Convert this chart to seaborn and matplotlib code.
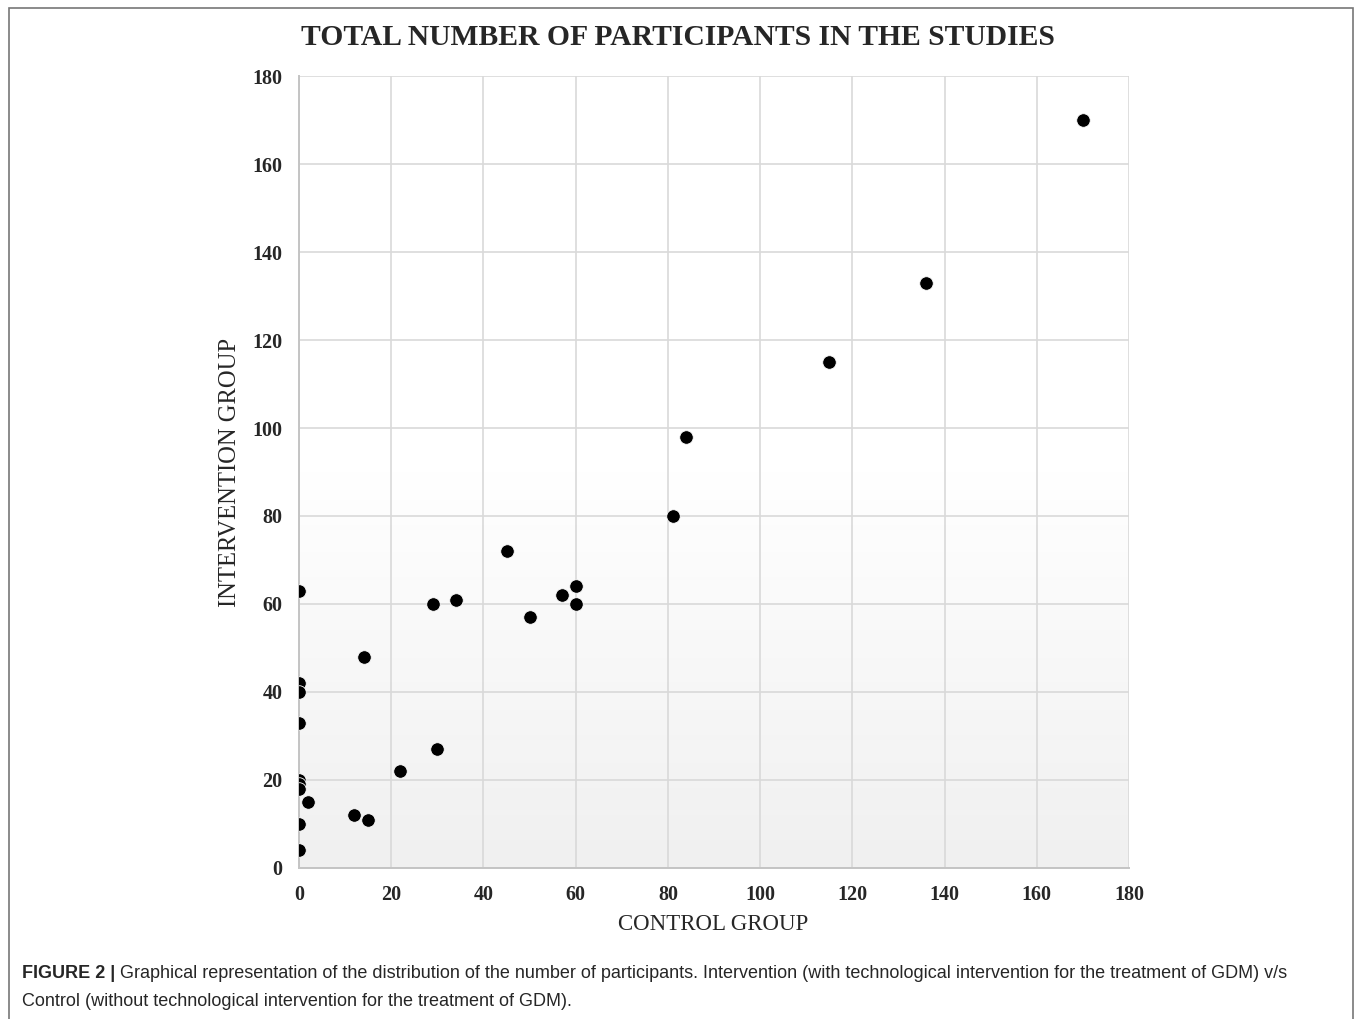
import numpy as np
import pandas as pd
import matplotlib
matplotlib.use("Agg")
import matplotlib.pyplot as plt
import matplotlib.patches as patches
import seaborn as sns

# Participants per study
control_group = [170, 136, 115, 84, 81, 45, 60, 57, 60, 50, 34, 29, 14,
                 0, 0, 0, 0, 30, 22, 0, 0, 0, 2, 12, 15, 0, 0]
intervention_group = [170, 133, 115, 98, 80, 72, 64, 62, 60, 57, 61, 60, 48,
                      63, 42, 40, 33, 27, 22, 20, 19, 18, 15, 12, 11, 10, 4]
tick_values = list(range(0, 181, 20))

title_text = "TOTAL NUMBER OF PARTICIPANTS IN THE STUDIES"
caption_bold = "FIGURE 2 | "
caption_line1 = ("Graphical representation of the distribution of the number of participants. "
                 "Intervention (with technological intervention for the treatment of GDM) v/s")
caption_line2 = "Control (without technological intervention for the treatment of GDM)."

df = pd.DataFrame({"control": control_group, "intervention": intervention_group})

sns.set_theme(style="white")
plt.rcParams['font.family'] = ['Liberation Serif', 'DejaVu Serif']

fig = plt.figure(figsize=(13.55, 10.19), dpi=100)
ax = fig.add_axes([0.2207, 0.1482, 0.6125, 0.7772])

# soft vertical gradient in the plot area
grad = np.linspace(0, 1, 256).reshape(-1, 1)
ax.imshow(grad, extent=[0, 180, 0, 180], aspect='auto', origin='upper',
          cmap=matplotlib.colors.LinearSegmentedColormap.from_list(
              "bg", ["#ffffff", "#ffffff", "#f0f0f0"]),
          zorder=0)

sns.scatterplot(data=df, x="control", y="intervention", ax=ax,
                color="black", s=95, edgecolor="white", linewidth=0.6, zorder=3)

ax.set_xlim(0, 180)
ax.set_ylim(0, 180)
ax.set_xticks(tick_values)
ax.set_yticks(tick_values)
ax.grid(True, color="#d9d9d9", linewidth=1.2, zorder=1)
ax.set_axisbelow(True)
for side, sp in ax.spines.items():
    sp.set_visible(side in ("left", "bottom"))
    sp.set_color("#c4c4c4")
    sp.set_linewidth(1.4)
ax.tick_params(length=0, pad=12, labelsize=14.5)
for lab in ax.get_xticklabels() + ax.get_yticklabels():
    lab.set_fontweight("bold")

ax.set_xlabel("CONTROL GROUP", fontsize=16.5)
ax.set_ylabel("INTERVENTION GROUP", fontsize=17.7)
ax.xaxis.set_label_coords(0.499, -0.058)
ax.yaxis.set_label_coords(-0.070, 0.5)

fig.text(0.5004, 0.9635, title_text, ha="center", va="center",
         fontsize=21.3, fontweight="bold")

# outer frame
fig.patches.append(patches.Rectangle((0.0066, -0.05), 0.9919, 1.0421,
                                     transform=fig.transFigure, fill=False,
                                     edgecolor="#777777", linewidth=1.2))

# caption
cap_font = ['Liberation Sans', 'DejaVu Sans']
t1 = fig.text(22 / 1355, 1 - 973 / 1019, caption_bold, ha="left", va="center",
              fontsize=12.95, fontweight="bold", family=cap_font)
fig.canvas.draw()
bb = t1.get_window_extent()
fig.text(bb.x1 / fig.bbox.width, 1 - 973 / 1019, caption_line1, ha="left", va="center",
         fontsize=12.95, family=cap_font)
fig.text(22 / 1355, 1 - 1001 / 1019, caption_line2, ha="left", va="center",
         fontsize=12.95, family=cap_font)

fig.savefig("out.png", dpi=100)
